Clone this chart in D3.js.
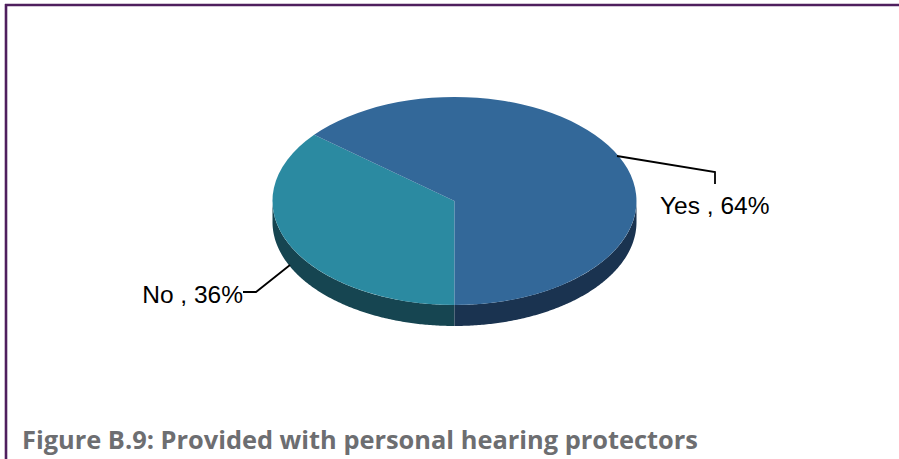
<!DOCTYPE html>
<html><head><meta charset="utf-8">
<script src="https://cdn.jsdelivr.net/npm/d3@7"></script>
<style>html,body{margin:0;padding:0;background:#fff}svg{display:block}</style>
</head><body><svg id="c" width="899" height="459"></svg>
<script>
const categories = ["No", "Yes"];
const values = [36, 64];
const topColors = ["#2B8AA1", "#336899"];
const sideColors = ["#164551", "#1A3350"];
const titleText = "Figure B.9: Provided with personal hearing protectors";

const W = 899, H = 459, cx = 454.5, cy = 201, rx = 182, ry = 104, depth = 21;
const svg = d3.select("#c");

// frame
svg.append("line").attr("x1",5).attr("x2",W).attr("y1",5).attr("y2",5).attr("stroke","#4F1F5E").attr("stroke-width",2.6);
svg.append("line").attr("x1",6).attr("x2",6).attr("y1",4).attr("y2",H).attr("stroke","#4F1F5E").attr("stroke-width",2.6);

const pie = d3.pie().value(d => d).sort(null).startAngle(Math.PI).endAngle(3 * Math.PI);
const arcs = pie(values);

const px = a => cx + rx * Math.sin(a);
const py = a => cy - ry * Math.cos(a);

// side wall: only the front half of the ellipse (angles pi/2 .. 3pi/2) is visible
const area = d3.area().x(a => px(a)).y0(a => py(a)).y1(a => py(a) + depth);
arcs.forEach((d, i) => {
  const segs = [[Math.max(d.startAngle, Math.PI / 2), Math.min(d.endAngle, 1.5 * Math.PI)],
                [Math.max(d.startAngle, 2.5 * Math.PI), Math.min(d.endAngle, 3.5 * Math.PI)]];
  segs.forEach(([a, b]) => {
    if (b <= a) return;
    svg.append("path").attr("d", area(d3.range(a, b, 0.01).concat([b]))).attr("fill", sideColors[i]);
  });
});

// top face
const arc = d3.arc().innerRadius(0).outerRadius(1);
const face = svg.append("g").attr("transform", `translate(${cx},${cy}) scale(${rx},${ry})`);
face.selectAll("path").data(arcs).join("path").attr("d", arc).attr("fill", (d, i) => topColors[i]);

// leaders
const line = d3.line();
const leader = pts => svg.append("path").attr("d", line(pts)).attr("fill","none").attr("stroke","#000").attr("stroke-width",1.8);
leader([[617,156],[715,172],[715,184]]);
leader([[290,265],[256,292],[243,292]]);

// labels
const lab = (x, y, i, anchor) => svg.append("text").attr("x",x).attr("y",y).attr("text-anchor",anchor)
  .attr("font-family","'Liberation Sans',Arial,sans-serif").attr("font-size",24.5).attr("fill","#000")
  .text(`${categories[i]} , ${values[i]}%`);
lab(660, 214, 1, "start");
lab(243, 303, 0, "end");

svg.append("text").attr("x",22).attr("y",449).attr("font-family","'Open Sans','Noto Sans',sans-serif")
  .attr("font-weight",700).attr("font-size",25.4).attr("fill","#6D6E71").text(titleText);
</script></body></html>
